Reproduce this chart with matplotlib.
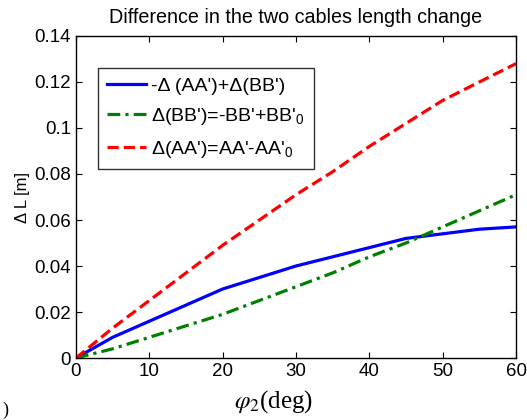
import matplotlib as mpl
import matplotlib.pyplot as plt
from matplotlib.ticker import FormatStrFormatter

mpl.use('Agg')

# data
phi = [0, 5, 10, 15, 20, 25, 30, 35, 40, 45, 50, 55, 60]
dAB = [0, 0.009, 0.016, 0.023, 0.030, 0.035, 0.040, 0.044, 0.048, 0.052, 0.054, 0.056, 0.057]
dBB = [0, 0.004, 0.009, 0.014, 0.019, 0.025, 0.031, 0.037, 0.044, 0.050, 0.057, 0.064, 0.071]
dAA = [0, 0.013, 0.025, 0.037, 0.049, 0.060, 0.071, 0.081, 0.092, 0.102, 0.112, 0.120, 0.128]

labels = ["-Δ (AA')+Δ(BB')", "Δ(BB')=-BB'+BB'$_0$", "Δ(AA')=AA'-AA'$_0$"]

plt.rcParams['font.family'] = ['Liberation Sans', 'DejaVu Sans']
plt.rcParams['mathtext.fontset'] = 'custom'
plt.rcParams['mathtext.rm'] = 'Liberation Sans'
plt.rcParams['mathtext.it'] = 'Liberation Sans:italic'

fig = plt.figure(figsize=(5.27, 4.2), dpi=100)
ax = fig.add_axes([0.1442, 0.1476, 0.835, 0.7667])

ax.plot(phi, dAB, color='#0000ff', lw=2.3, ls='-', label=labels[0])
ax.plot(phi, dBB, color='#008000', lw=2.3, ls=(0, (4, 1.6, 1, 1.6)), label=labels[1])
ax.plot(phi, dAA, color='#ff0000', lw=2.3, ls=(0, (3.5, 1.6)), label=labels[2])

ax.set_xlim(0, 60)
ax.set_ylim(0, 0.14)
ax.set_xticks(range(0, 61, 10))
ax.set_yticks([0, 0.02, 0.04, 0.06, 0.08, 0.1, 0.12, 0.14])
ax.yaxis.set_major_formatter(FormatStrFormatter('%g'))
ax.tick_params(direction='in', top=True, right=True, labelsize=13.5, length=4, width=0.8)
for s in ax.spines.values():
    s.set_linewidth(1.0)

ax.set_title('Difference in the two cables length change', fontsize=14.2, pad=9)
ax.set_ylabel('Δ L [m]', fontsize=12, labelpad=3)
ax.set_xlabel(r'$\varphi_2$(deg)', fontsize=18, family='Liberation Serif',
              math_fontfamily='stix')
ax.xaxis.set_label_coords(0.45, -0.095)

leg = ax.legend(loc='upper left', bbox_to_anchor=(0.05, 0.9), fontsize=14,
                frameon=True, fancybox=False, handlelength=2.0, handletextpad=0.3,
                borderpad=0.45, labelspacing=0.6, borderaxespad=0)
leg.get_frame().set_edgecolor('black')
leg.get_frame().set_linewidth(1.0)

fig.text(0.004, 0.012, ')', fontsize=13, family='Liberation Serif')

fig.savefig('out.png', dpi=100)
